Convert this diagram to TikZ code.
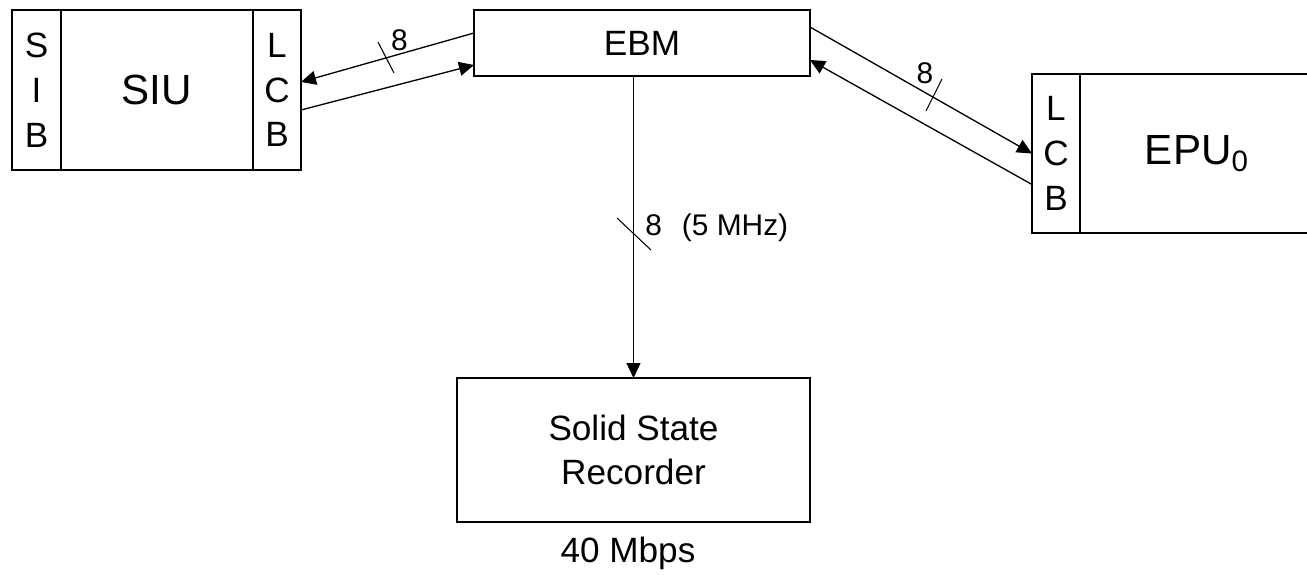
\documentclass[tikz,border=0pt]{standalone}
\usepackage{fontspec}
\setmainfont{Liberation Sans}
\usetikzlibrary{positioning,arrows.meta}

\begin{document}
\begin{tikzpicture}
\tikzset{
  unit/.style={draw, line width=1.1pt, outer sep=0pt, inner sep=0pt, align=center},
  board/.style={font=\fontsize{20}{25.5}\selectfont},
  bus/.style={line width=0.75pt, -{Triangle[length=0.3cm,width=0.28cm]}},
  busmark/.style={line width=0.6pt},
  lbl/.style={font=\fontsize{17}{20}\selectfont, inner sep=0pt}
}
\useasboundingbox (0,0) rectangle (26.14,-11.48);
\clip (0,0) rectangle (26.14,-11.48);

% SIU with its two boards
\node[unit, board, minimum width=0.98cm, minimum height=3.2cm] (sib) at (0.73,-1.80) {S\\I\\B};
\node[unit, minimum width=3.84cm, minimum height=3.2cm, right=0pt of sib, font=\fontsize{24}{28}\selectfont] (siu) {SIU};
\node[unit, board, minimum width=0.96cm, minimum height=3.2cm, right=0pt of siu] (lcbs) {L\\C\\B};

% EBM
\node[unit, minimum width=6.72cm, minimum height=1.32cm, font=\fontsize{20}{24}\selectfont] (ebm) at (12.84,-0.86) {EBM};

% EPU with its board
\node[unit, board, minimum width=0.96cm, minimum height=3.18cm] (lcbe) at (21.12,-3.07) {L\\C\\B};
\node[unit, minimum width=4.68cm, minimum height=3.18cm, right=0pt of lcbe, font=\fontsize{24}{28}\selectfont] (epu) {EPU\textsubscript{0}};

% recorder
\node[unit, minimum width=7.06cm, minimum height=2.88cm, font=\fontsize{20}{25}\selectfont] (ssr) at (12.67,-9.00) {Solid State\\Recorder};
\node[font=\fontsize{20}{24}\selectfont, inner sep=0pt] (rate) at (12.56,-11.06) {40 Mbps};

% links
\draw[bus] ([yshift=0.2cm]ebm.west) -- ([yshift=0.16cm]lcbs.east);
\draw[bus] ([yshift=-0.4cm]lcbs.east) -- ([yshift=-0.44cm]ebm.west);
\draw[bus] ([yshift=0.32cm]ebm.east) -- (lcbe.west);
\draw[bus] ([yshift=-0.62cm]lcbe.west) -- ([yshift=-0.34cm]ebm.east);
\draw[bus] (ebm.south -| ssr.north) -- (ssr.north);

% bus widths
\draw[busmark] (7.56,-0.84) -- (7.88,-1.46);
\node[lbl] (w1) at (7.99,-0.80) {8};
\draw[busmark] (18.52,-2.22) -- (18.84,-1.58);
\node[lbl] (w2) at (18.50,-1.46) {8};
\draw[busmark] (12.34,-4.36) -- (13.02,-5.00);
\node[lbl, anchor=west] (w3) at (12.90,-4.56) {8\hspace{0.4cm}(5 MHz)};
\end{tikzpicture}
\end{document}
